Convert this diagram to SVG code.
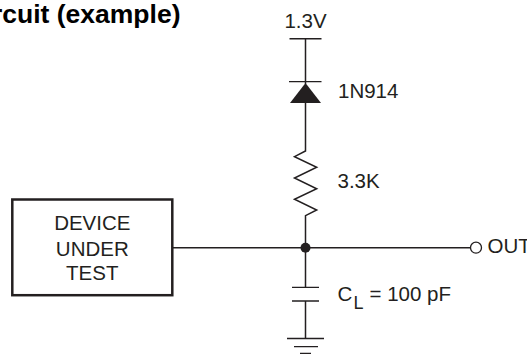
<svg xmlns="http://www.w3.org/2000/svg" width="527" height="354" viewBox="0 0 527 354">
<style>
text{font-family:"Liberation Sans",Arial,sans-serif;font-size:20.5px;fill:#231f20}
.w{fill:none;stroke:#231f20;stroke-width:1.5}
.p{fill:none;stroke:#231f20;stroke-width:1.3}
</style>
<rect width="527" height="354" fill="#fff"/>
<text id="title" x="180.5" y="23" text-anchor="end" style="font-size:26.5px;font-weight:bold;fill:#000">rcuit (example)</text>
<g id="connectors">
<path class="w" d="M305.5 39V84M305.5 102V151L294.5 156.7 316.7 167.3 294.5 178 316.7 188.7 294.5 199.3 316.7 210 305.5 215.7V287M305.5 301V338.5M172 247.7H470.5"/>
</g>
<g id="supply"><path class="w" d="M289.5 38.7H321.5"/><text x="305.5" y="27.5" text-anchor="middle">1.3V</text></g>
<g id="diode"><path class="p" d="M289 81.7H321.5"/><path d="M305.5 83L321 103H290Z" fill="#231f20"/><text x="338" y="97.5">1N914</text></g>
<g id="resistor"><text x="337.5" y="188.3">3.3K</text></g>
<g id="dut"><rect x="12.3" y="199.5" width="160" height="95.7" fill="none" stroke="#231f20" stroke-width="2.5"/>
<text x="92.3" y="230" text-anchor="middle">DEVICE</text><text x="92.3" y="256" text-anchor="middle">UNDER</text><text x="92.3" y="279.5" text-anchor="middle">TEST</text></g>
<g id="junction"><circle cx="305.5" cy="247.7" r="5" fill="#231f20"/></g>
<g id="out"><circle cx="476" cy="247.7" r="5.5" fill="#fff" stroke="#231f20" stroke-width="1.3"/><text x="487.5" y="252.7">OUT</text></g>
<g id="capacitor"><path class="p" d="M292 287.3H319M292 301H319"/>
<text x="337.5" y="300.7">C<tspan x="353.5" y="308.5" style="font-size:18px">L</tspan><tspan x="369.5" y="300.7">= 100 pF</tspan></text></g>
<g id="ground"><path class="p" d="M287 338.5H324M294 346.7H318M300 353.5H311"/></g>
</svg>
